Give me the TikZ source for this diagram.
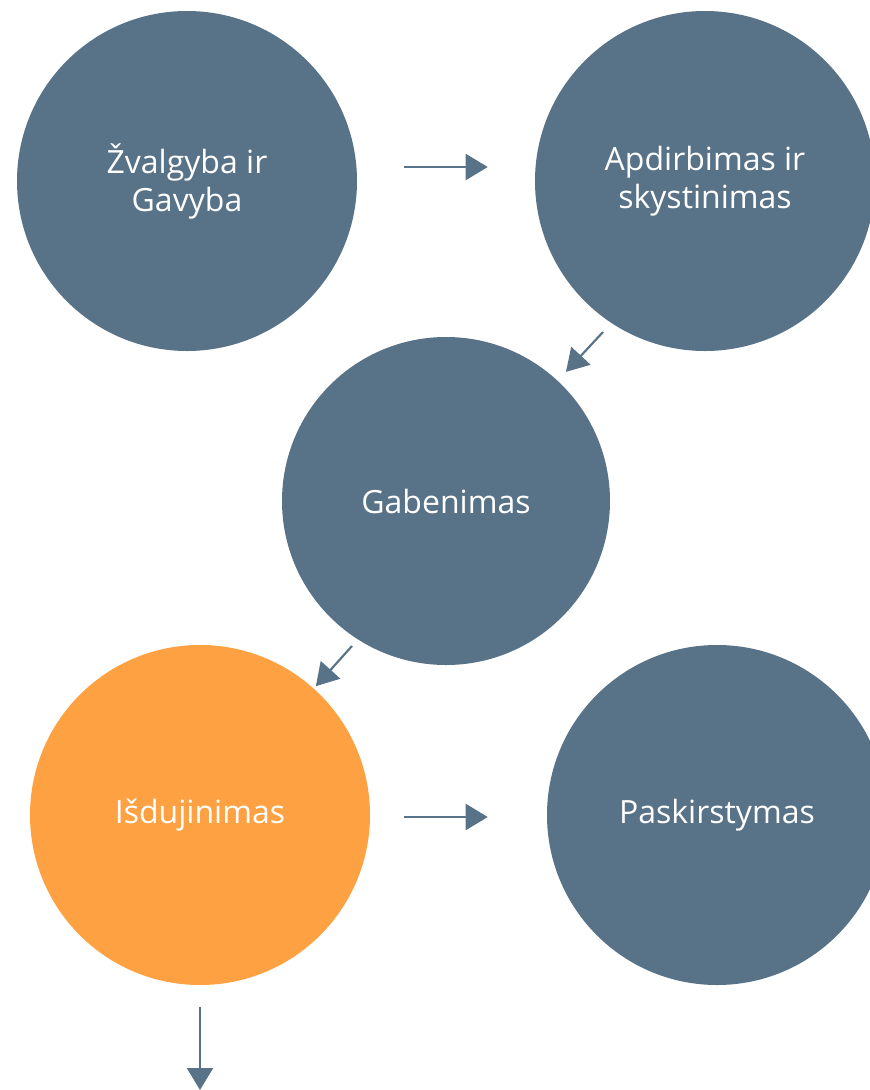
\documentclass[tikz,border=0pt]{standalone}
\usepackage{fontspec}
\setmainfont{Open Sans}
\usetikzlibrary{arrows.meta}

\definecolor{stepblue}{HTML}{587288}
\definecolor{steporange}{HTML}{FDA143}

\tikzset{
  phase/.style={circle, minimum size=255pt, inner sep=0pt, fill=stepblue, text=white, align=center, font=\fontsize{24}{28.5}\selectfont},
  phasehl/.style={phase, fill=steporange},
  flow/.style={draw=stepblue, line width=1.6pt, -{Triangle[length=16.5pt, width=19.5pt]}}
}

\begin{document}
\begin{tikzpicture}[x=0.75pt, y=-0.75pt]

\useasboundingbox (0, 0) rectangle (870, 1090);

\node[phase] (zvalgyba) at (187, 181) {Žvalgyba ir\\Gavyba};
\node[phase] (apdirbimas) at (705, 181) {Apdirbimas ir\\skystinimas};
\node[phase, minimum size=246pt] (gabenimas) at (446, 501) {Gabenimas};
\node[phasehl] (isdujinimas) at (200, 815) {Išdujinimas};
\node[phase] (paskirstymas) at (717, 815) {Paskirstymas};

\coordinate (diag1) at (603, 332);
\coordinate (diag2) at (352, 646);
\coordinate (down) at (200, 1090);

\draw[flow, shorten <=47*0.75pt, shorten >=47*0.75pt] ([yshift=10.5pt]zvalgyba.east) -- ([yshift=10.5pt]apdirbimas.west);
\draw[flow, shorten >=12*0.75pt] (diag1) -- (gabenimas);
\draw[flow, shorten >=3*0.75pt] (diag2) -- (isdujinimas);
\draw[flow, shorten <=34*0.75pt, shorten >=59*0.75pt] ([yshift=-1.5pt]isdujinimas.east) -- ([yshift=-1.5pt]paskirstymas.west);
\draw[flow, shorten <=22*0.75pt] (isdujinimas) -- (down);

\end{tikzpicture}
\end{document}
